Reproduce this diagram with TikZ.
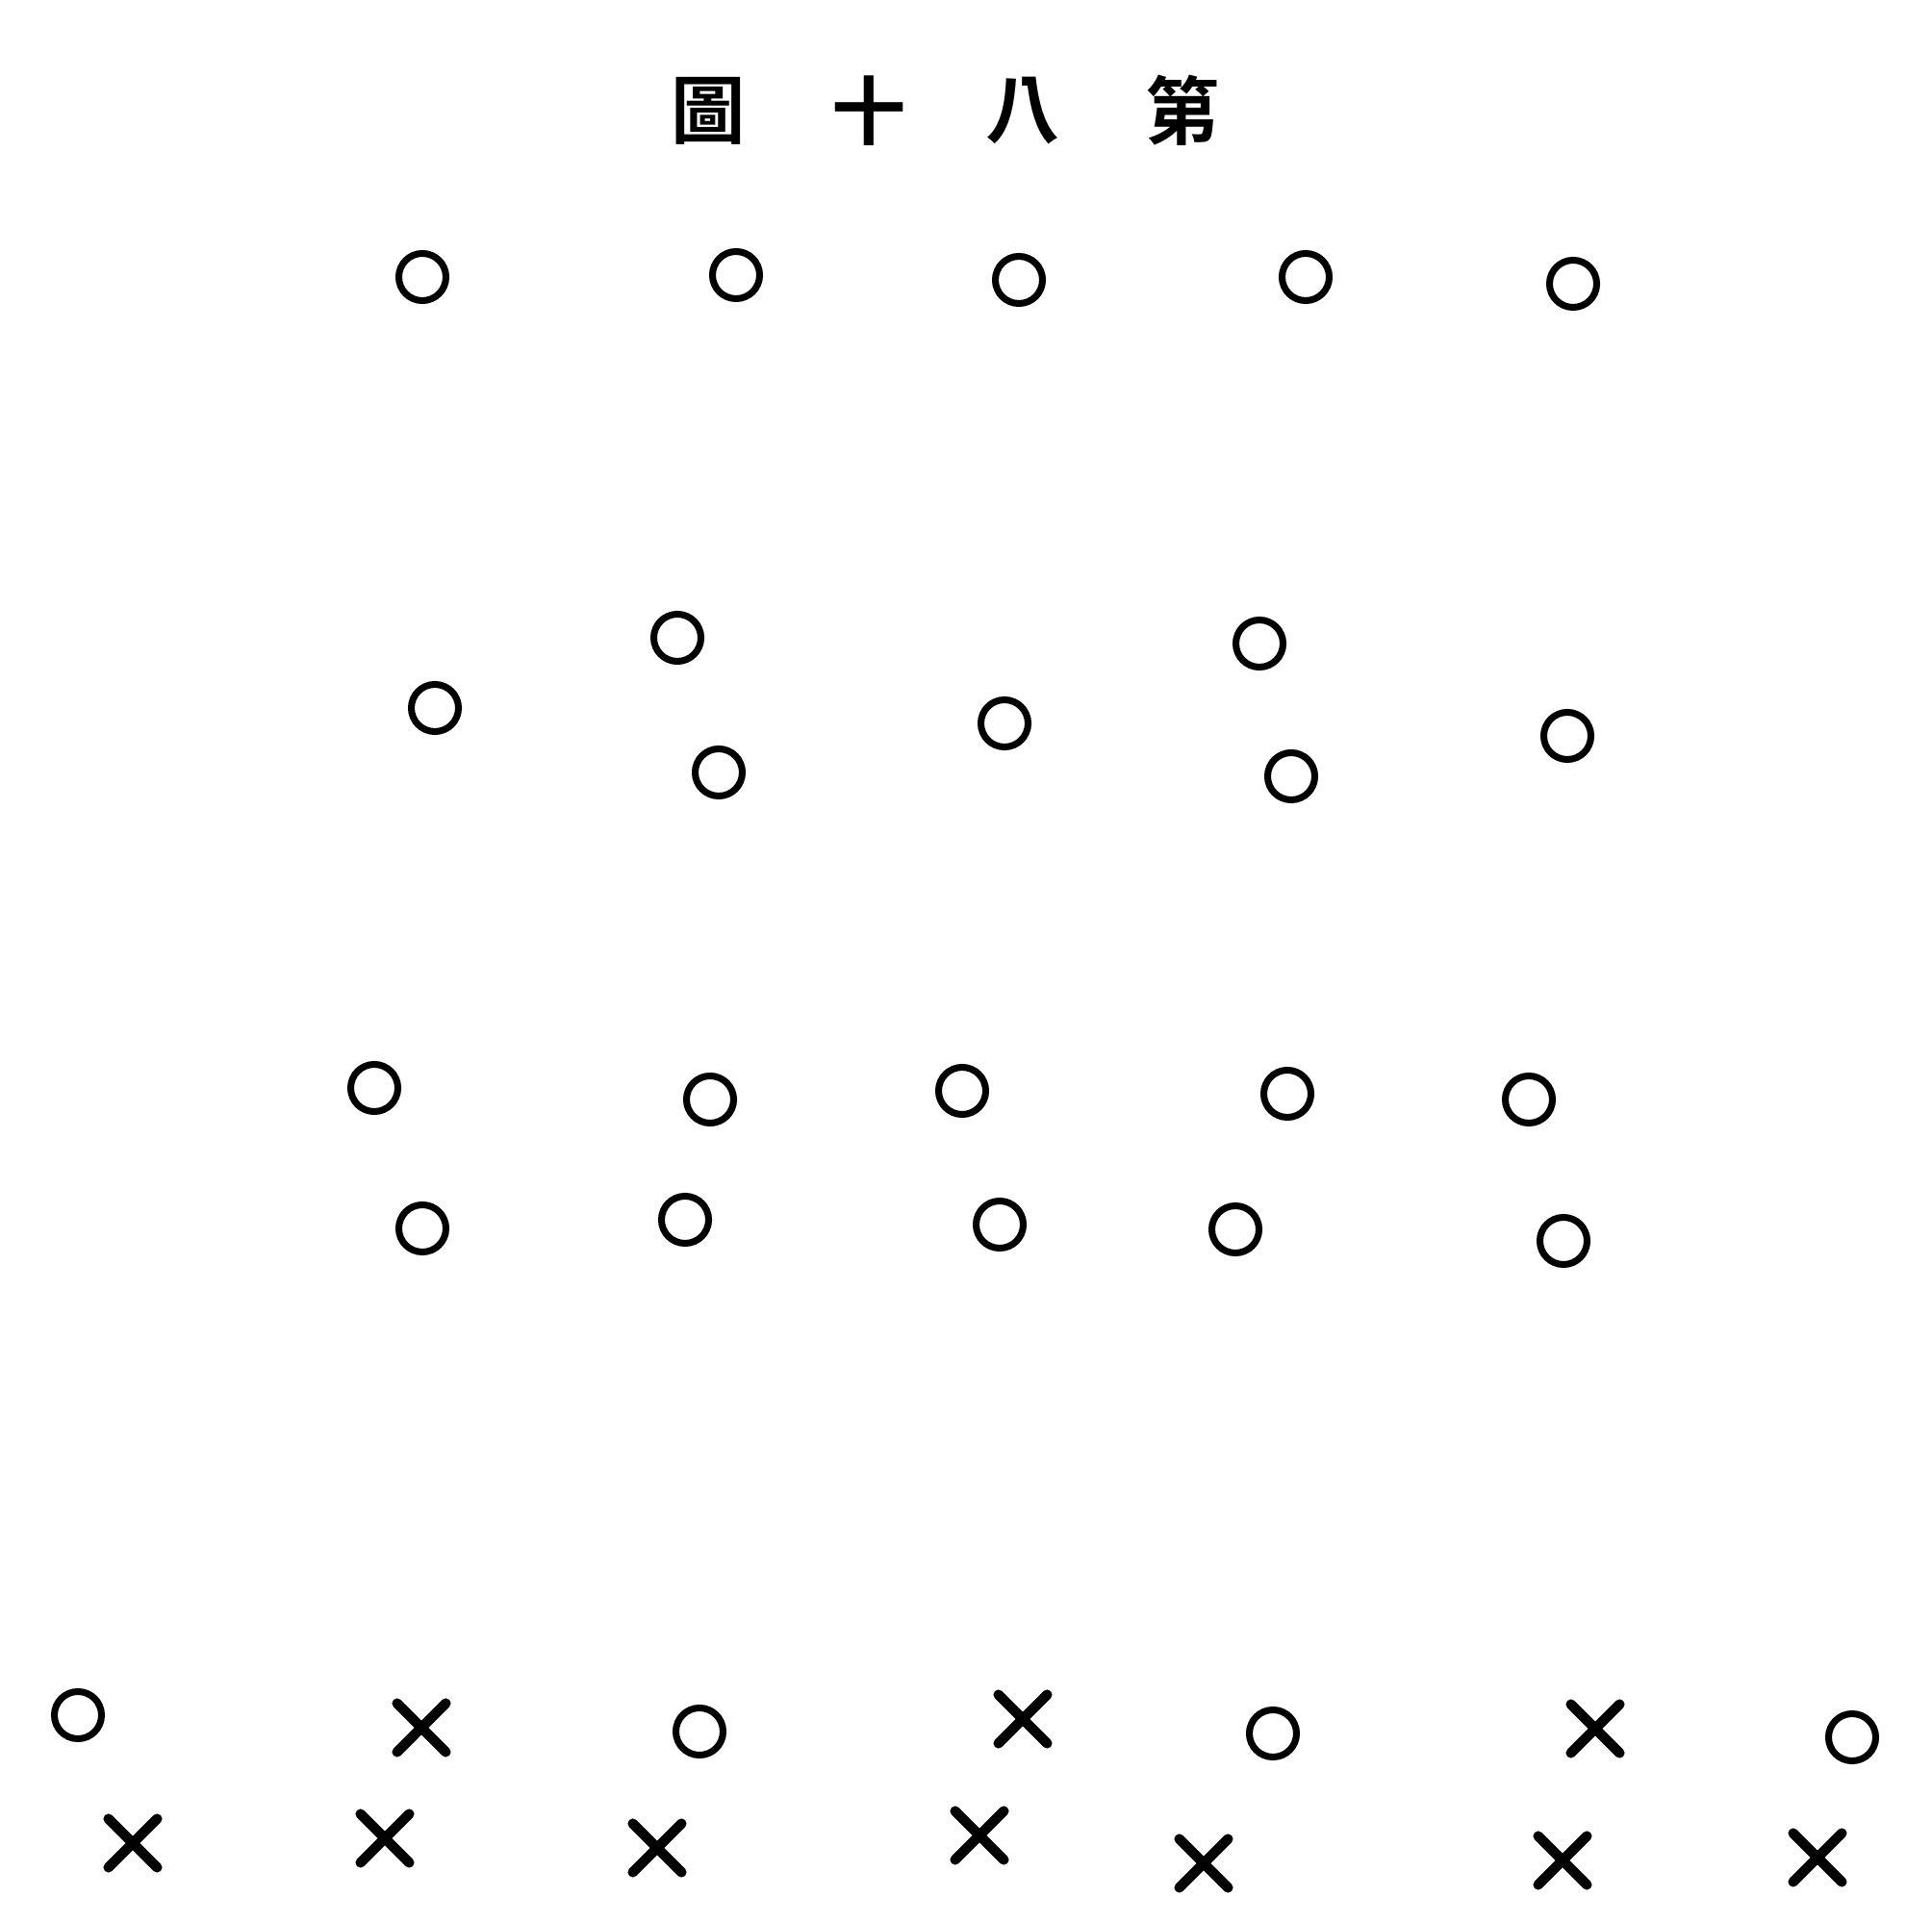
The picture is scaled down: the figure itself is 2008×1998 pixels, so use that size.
\documentclass[tikz,border=0pt]{standalone}
\usepackage{fontspec}
\newfontfamily\cjk{Noto Sans CJK TC}[BoldFont={* Bold}]
\usetikzlibrary{shapes.misc}
\begin{document}
\begin{tikzpicture}[x=0.01cm,y=-0.01cm,
  ring/.style={draw=black,circle,line width=2pt,minimum size=0.49cm,inner sep=0pt},
  crossmark/.style={draw=black,cross out,line width=3pt,line cap=round,minimum size=0.4cm,inner sep=0pt},
  titlechar/.style={font=\cjk\bfseries\fontsize{22}{22}\selectfont,inner sep=0pt}]
\useasboundingbox[fill=white] (0,0) rectangle (2008,1998);
% title
\node[titlechar] (t1) at (736,115) {圖};
\node[titlechar] (t2) at (903,115) {十};
\node[titlechar] (t3) at (1063,115) {八};
\node[titlechar] (t4) at (1229,115) {第};
% row 1
\node[ring] (a1) at (439,288) {};
\node[ring] (a2) at (765,286) {};
\node[ring] (a3) at (1059,291) {};
\node[ring] (a4) at (1357,288) {};
\node[ring] (a5) at (1635,295) {};
% row 2
\node[ring] (b1) at (452,736) {};
\node[ring] (b2) at (704,663) {};
\node[ring] (b3) at (747,803) {};
\node[ring] (b4) at (1044,752) {};
\node[ring] (b5) at (1309,669) {};
\node[ring] (b6) at (1342,807) {};
\node[ring] (b7) at (1629,765) {};
% row 3
\node[ring] (c1) at (389,1131) {};
\node[ring] (c2) at (738,1143) {};
\node[ring] (c3) at (1000,1134) {};
\node[ring] (c4) at (1338,1137) {};
\node[ring] (c5) at (1589,1143) {};
% row 4
\node[ring] (d1) at (439,1277) {};
\node[ring] (d2) at (712,1268) {};
\node[ring] (d3) at (1039,1273) {};
\node[ring] (d4) at (1284,1278) {};
\node[ring] (d5) at (1625,1290) {};
% row 5
\node[ring] (e1) at (81,1783) {};
\node[crossmark] (e2) at (438,1796) {};
\node[ring] (e3) at (727,1800) {};
\node[crossmark] (e4) at (1063,1787) {};
\node[ring] (e5) at (1323,1802) {};
\node[crossmark] (e6) at (1658,1797) {};
\node[ring] (e7) at (1925,1806) {};
% row 6
\node[crossmark] (f1) at (138,1916) {};
\node[crossmark] (f2) at (400,1911) {};
\node[crossmark] (f3) at (683,1921) {};
\node[crossmark] (f4) at (1018,1908) {};
\node[crossmark] (f5) at (1251,1937) {};
\node[crossmark] (f6) at (1624,1934) {};
\node[crossmark] (f7) at (1889,1931) {};
\end{tikzpicture}
\end{document}
